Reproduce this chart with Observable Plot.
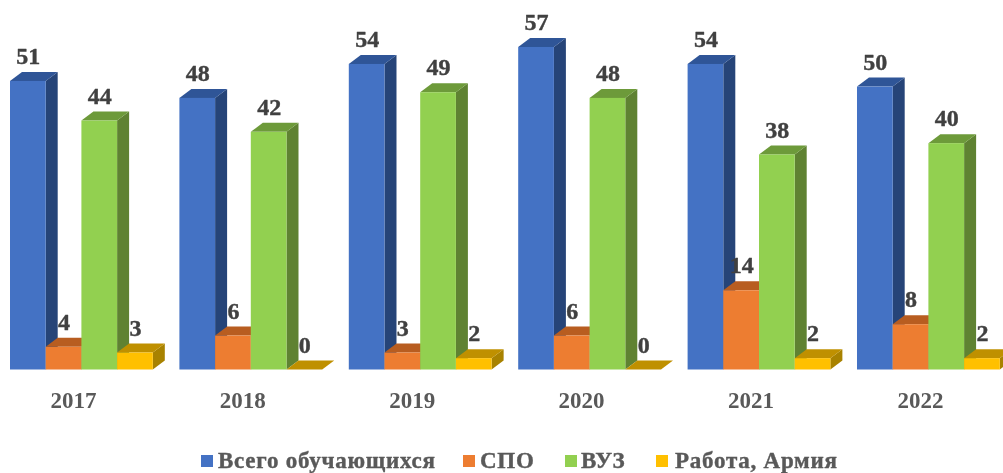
<!DOCTYPE html>
<html><head><meta charset="utf-8">
<script src="https://cdn.jsdelivr.net/npm/d3@7"></script>
<script src="https://cdn.jsdelivr.net/npm/@observablehq/plot@0.6"></script>
<style>
html,body{margin:0;padding:0;background:#fff;width:1003px;height:473px;overflow:hidden}
#chart,#legend{filter:blur(0.4px)}
#legend{position:relative;height:33px;font:bold 23px "Liberation Serif",serif;color:#595959;letter-spacing:.75px;-webkit-text-stroke:.4px #595959}
#legend .k{position:absolute;top:15px;width:12px;height:12px}
#legend .t{position:absolute;top:9px;line-height:24px;white-space:nowrap}
</style></head><body>
<div id="chart"></div><div id="legend"></div>
<script>
const years = ["2017","2018","2019","2020","2021","2022"];
const seriesNames = ["Всего обучающихся","СПО","ВУЗ","Работа, Армия"];
const total = [51,48,54,57,54,50];
const spo = [4,6,3,6,14,8];
const vuz = [44,42,49,48,38,40];
const work = [3,0,2,0,2,2];
const frontColors = ["#4472C4","#ED7D31","#92D050","#FFC000"];
const topColors = ["#2F5597","#B85D20","#6D9A3A","#BF9000"];
const sideColors = ["#264478","#9E480E","#5F8232","#A88200"];
const legendX = [[201,218],[463,480],[565,581],[656,675]];

const columns = [total,spo,vuz,work];
const rows = years.flatMap((year,i)=>seriesNames.map((series,s)=>({year,series,s,value:columns[s][i]})));
const depthX = 12, depthY = 9;

function prism(index, scales, values, dims, ctx, next){
  const g = next(index, scales, values, dims, ctx);
  const rects = g.querySelectorAll("rect");
  rects.forEach((r,k)=>{
    const s = rows[index[k]].s;
    const x=+r.getAttribute("x"), y=+r.getAttribute("y"), w=+r.getAttribute("width"), h=+r.getAttribute("height");
    const parent=r.parentNode;
    const mk=(pts,fill)=>{
      const p=document.createElementNS("http://www.w3.org/2000/svg","polygon");
      p.setAttribute("points",pts.map(a=>a.join(",")).join(" "));
      p.setAttribute("fill",fill);
      parent.insertBefore(p,r);
    };
    mk([[x+w,y],[x+w+depthX,y-depthY],[x+w+depthX,y+h-depthY],[x+w,y+h]],sideColors[s]);
    mk([[x,y],[x+depthX,y-depthY],[x+w+depthX,y-depthY],[x+w,y]],topColors[s]);
  });
  return g;
}

const chart = Plot.plot({
  width:1003, height:440,
  marginLeft:10, marginRight:3.2, marginTop:30, marginBottom:70.5,
  style:{background:"#fff",overflow:"visible"},
  fx:{domain:years,axis:null,paddingInner:0.157,paddingOuter:0,round:false},
  x:{domain:seriesNames,axis:null,padding:0,round:false},
  y:{domain:[0,60],axis:null},
  color:{domain:seriesNames,range:frontColors},
  marks:[
    Plot.barY(rows,{fx:"year",x:"series",y:"value",fill:"series",render:prism}),
    Plot.text(rows,{fx:"year",x:"series",y:"value",text:d=>String(d.value),dy:-25,lineAnchor:"middle",
      fontFamily:"Liberation Serif",fontWeight:"bold",fontSize:24,fill:"#404040",stroke:"#404040",strokeWidth:0.4}),
    Plot.axisFx({anchor:"bottom",tickSize:0,tickPadding:31,dx:-8.5,lineAnchor:"middle",
      fontFamily:"Liberation Serif",fontWeight:"bold",fontSize:23,fill:"#595959",stroke:"#595959",strokeWidth:0.4,label:null})
  ]
});
chart.style.display="block";
document.getElementById("chart").append(chart);
const lg=document.getElementById("legend");
seriesNames.forEach((n,i)=>{
  const k=document.createElement("span");k.className="k";k.style.left=legendX[i][0]+"px";k.style.background=frontColors[i];lg.append(k);
  const t=document.createElement("span");t.className="t";t.style.left=legendX[i][1]+"px";t.textContent=n;lg.append(t);
});
</script>
</body></html>
